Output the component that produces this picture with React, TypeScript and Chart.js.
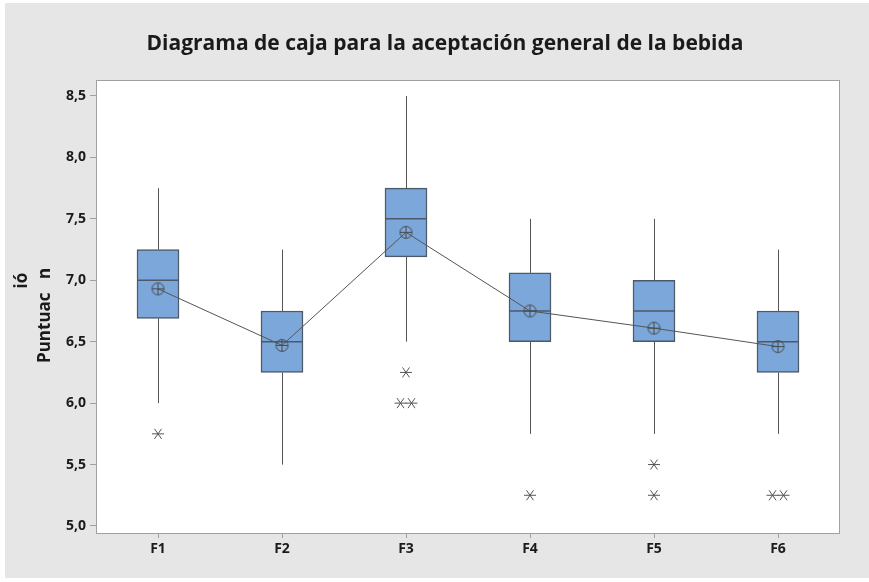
import React, { useEffect, useRef } from "react";
import { Chart, registerables } from "chart.js";

Chart.register(...registerables);

const categories = ["F1", "F2", "F3", "F4", "F5", "F6"];
const whiskerHigh = [7.75, 7.25, 8.5, 7.5, 7.5, 7.25];
const q3 = [7.25, 6.75, 7.75, 7.06, 7.0, 6.75];
const medians = [7.0, 6.5, 7.5, 6.75, 6.75, 6.5];
const q1 = [6.69, 6.25, 7.19, 6.5, 6.5, 6.25];
const whiskerLow = [6.0, 5.5, 6.5, 5.75, 5.75, 5.75];
const means = [6.93, 6.47, 7.39, 6.75, 6.61, 6.46];
const outliers: number[][] = [[5.75], [], [6.25, 6.0, 6.0], [5.25], [5.5, 5.25], [5.25, 5.25]];
const yTicks = [5.0, 5.5, 6.0, 6.5, 7.0, 7.5, 8.0, 8.5];
const yMin = 4.943;
const yMax = 8.63;

const titleText = "Diagrama de caja para la aceptación general de la bebida";
const FONT = "'Open Sans', 'Noto Sans', sans-serif";
const LINE = "#555555";

function makeMeanSymbol(): HTMLCanvasElement {
  const c = document.createElement("canvas");
  c.width = 15;
  c.height = 15;
  const g = c.getContext("2d")!;
  g.strokeStyle = "#4a4a4a";
  g.lineWidth = 1;
  g.beginPath();
  g.arc(7.5, 7.5, 6, 0, Math.PI * 2);
  g.moveTo(1.5, 7.5);
  g.lineTo(13.5, 7.5);
  g.moveTo(7.5, 1.5);
  g.lineTo(7.5, 13.5);
  g.stroke();
  return c;
}

const boxPlugin = {
  id: "boxExtras",
  beforeDraw(chart: any) {
    const ctx = chart.ctx;
    ctx.save();
    ctx.fillStyle = "#ffffff";
    ctx.fillRect(0, 0, chart.width, chart.height);
    ctx.fillStyle = "#e6e6e6";
    ctx.fillRect(5, 3, chart.width - 5, chart.height - 7);
    const a = chart.chartArea;
    ctx.fillStyle = "#ffffff";
    ctx.fillRect(a.left, a.top, a.right - a.left, a.bottom - a.top);
    ctx.restore();
  },
  beforeDatasetsDraw(chart: any) {
    const ctx = chart.ctx;
    const x = chart.scales.x;
    const y = chart.scales.y;
    ctx.save();
    ctx.strokeStyle = LINE;
    ctx.lineWidth = 1;
    categories.forEach((_, i) => {
      const px = Math.round(x.getPixelForValue(i)) + 0.5;
      ctx.beginPath();
      ctx.moveTo(px, y.getPixelForValue(whiskerHigh[i]));
      ctx.lineTo(px, y.getPixelForValue(q3[i]));
      ctx.moveTo(px, y.getPixelForValue(q1[i]));
      ctx.lineTo(px, y.getPixelForValue(whiskerLow[i]));
      ctx.stroke();
    });
    ctx.restore();
  },
  afterDatasetDraw(chart: any, args: any) {
    if (args.index !== 0) return;
    const ctx = chart.ctx;
    const y = chart.scales.y;
    const meta = chart.getDatasetMeta(0);
    ctx.save();
    ctx.strokeStyle = "#4d5869";
    ctx.lineWidth = 1.5;
    meta.data.forEach((bar: any, i: number) => {
      const half = bar.width / 2;
      const py = y.getPixelForValue(medians[i]);
      ctx.beginPath();
      ctx.moveTo(bar.x - half, py);
      ctx.lineTo(bar.x + half, py);
      ctx.stroke();
    });
    ctx.restore();
  },
  afterDatasetsDraw(chart: any) {
    const ctx = chart.ctx;
    const x = chart.scales.x;
    const y = chart.scales.y;
    ctx.save();
    ctx.strokeStyle = "#555555";
    ctx.lineWidth = 1;
    outliers.forEach((vals, i) => {
      const cx = x.getPixelForValue(i);
      const counts: Record<string, number> = {};
      vals.forEach((v) => (counts[String(v)] = (counts[String(v)] || 0) + 1));
      Object.keys(counts).forEach((k) => {
        const n = counts[k];
        const py = y.getPixelForValue(Number(k));
        for (let j = 0; j < n; j++) {
          const px = cx + (j - (n - 1) / 2) * 11;
          const r = 5;
          ctx.beginPath();
          ctx.moveTo(px - r - 1, py);
          ctx.lineTo(px + r + 1, py);
          ctx.moveTo(px - r * 0.7, py - r);
          ctx.lineTo(px + r * 0.7, py + r);
          ctx.moveTo(px - r * 0.7, py + r);
          ctx.lineTo(px + r * 0.7, py - r);
          ctx.stroke();
        }
      });
    });
    const a = chart.chartArea;
    ctx.strokeStyle = "#a0a0a0";
    ctx.lineWidth = 1;
    ctx.strokeRect(a.left + 0.5, a.top + 0.5, a.right - a.left - 1, a.bottom - a.top);
    ctx.restore();
  },
  afterDraw(chart: any) {
    const ctx = chart.ctx;
    ctx.save();
    ctx.fillStyle = "#1a1a1a";
    ctx.font = `bold 21px ${FONT}`;
    ctx.textAlign = "center";
    ctx.textBaseline = "middle";
    ctx.fillText(titleText, 445, 44);

    ctx.font = `bold 17px ${FONT}`;
    ctx.textAlign = "left";
    ctx.translate(45, 363);
    ctx.rotate(-Math.PI / 2);
    const w = ctx.measureText("Puntuac").width;
    const gap = ctx.measureText("ió").width;
    ctx.fillText("Puntuac", 0, 0);
    ctx.fillText("n", w + gap * 0.85, 0);
    ctx.fillText("ió", w + 4, -23);
    ctx.restore();
  },
};

export default function App() {
  const ref = useRef<HTMLCanvasElement>(null);
  useEffect(() => {
    document.body.style.margin = "0";
    const canvas = ref.current!;
    const chart = new Chart(canvas, {
      type: "bar",
      data: {
        labels: categories,
        datasets: [
          {
            type: "bar",
            data: categories.map((_, i) => [q1[i], q3[i]]) as any,
            backgroundColor: "#7ba7da",
            borderColor: "#4d5869",
            borderWidth: 1.5,
            borderSkipped: false,
            barThickness: 42,
            order: 2,
          },
          {
            type: "line",
            data: means,
            borderColor: "#555555",
            borderWidth: 1,
            pointStyle: makeMeanSymbol() as any,
            pointRadius: 7,
            fill: false,
            tension: 0,
            order: 1,
          },
        ],
      },
      options: {
        animation: false,
        responsive: false,
        events: [],
        layout: { padding: { left: 0, top: 80, right: 29, bottom: 0 } },
        plugins: { legend: { display: false }, tooltip: { enabled: false }, title: { display: false } },
        scales: {
          x: {
            type: "category",
            offset: true,
            grid: { display: true, offset: false, drawOnChartArea: false, drawTicks: true, tickLength: 5, color: "#a0a0a0" },
            border: { display: false },
            ticks: { color: "#1a1a1a", font: { family: FONT, size: 14, weight: "bold" }, padding: 3 },
            afterFit: (s: any) => {
              s.height = 49;
            },
          },
          y: {
            min: yMin,
            max: yMax,
            grid: { display: true, drawOnChartArea: false, drawTicks: true, tickLength: 6, color: "#a0a0a0" },
            border: { display: false },
            afterBuildTicks: (s: any) => {
              s.ticks = yTicks.map((v) => ({ value: v }));
            },
            ticks: {
              color: "#1a1a1a",
              font: { family: FONT, size: 14, weight: "bold" },
              padding: 4,
              callback: (v: any) => Number(v).toFixed(1).replace(".", ","),
            },
            afterFit: (s: any) => {
              s.width = 96;
            },
          },
        },
      },
      plugins: [boxPlugin],
    });
    return () => chart.destroy();
  }, []);
  return <canvas ref={ref} width={869} height={582} style={{ display: "block" }} />;
}
